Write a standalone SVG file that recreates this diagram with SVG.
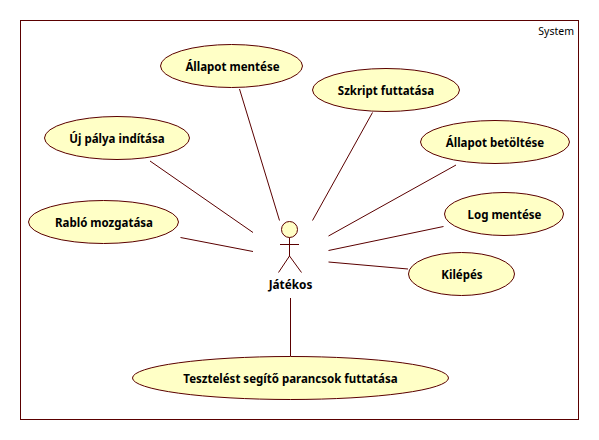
<svg xmlns="http://www.w3.org/2000/svg" width="599" height="440" viewBox="0 0 599 440">
<style>
.s{stroke:#5a0000;stroke-width:1;fill:none}
.u{stroke:#5a0000;stroke-width:1;fill:#ffffc6}
text{font-family:"Noto Sans","Liberation Sans",sans-serif;font-size:11.5px;font-weight:700;fill:#000;text-anchor:middle}
</style>
<rect width="599" height="440" fill="#fff"/>
<g id="system">
<rect class="s" x="20.5" y="20.5" width="558" height="399"/>
<text x="574" y="35" style="font-weight:400;text-anchor:end;font-size:10.5px">System</text>
</g>
<g id="connectors">
<path class="s" d="M239.5 89L279.5 220.5"/>
<path class="s" d="M150 161L253 232.5"/>
<path class="s" d="M180.5 237.5L253 251.5"/>
<path class="s" d="M372.5 112.5L312.5 220.5"/>
<path class="s" d="M456 165L328.5 236"/>
<path class="s" d="M443.5 226.5L328.5 250.5"/>
<path class="s" d="M328.5 262L408 269"/>
<path class="s" d="M290.5 298V356"/>
</g>
<g id="u1"><ellipse class="u" cx="231.5" cy="66" rx="71" ry="21.5"/><text x="232.5" y="71">Állapot mentése</text></g>
<g id="u2"><ellipse class="u" cx="117" cy="138" rx="72.5" ry="21.5"/><text x="117" y="143">Új pálya indítása</text></g>
<g id="u3"><ellipse class="u" cx="103.5" cy="222" rx="75" ry="21.5"/><text x="104" y="227">Rabló mozgatása</text></g>
<g id="u4"><ellipse class="u" cx="386" cy="90" rx="73.5" ry="21.5"/><text x="386" y="95">Szkript futtatása</text></g>
<g id="u5"><ellipse class="u" cx="495" cy="142" rx="74.5" ry="21.5"/><text x="495" y="147">Állapot betöltése</text></g>
<g id="u6"><ellipse class="u" cx="504" cy="214" rx="59.5" ry="21.5"/><text x="504.5" y="219">Log mentése</text></g>
<g id="u7"><ellipse class="u" cx="461.5" cy="274" rx="53" ry="21.5"/><text x="462" y="279">Kilépés</text></g>
<g id="u8"><ellipse class="u" cx="290.5" cy="378" rx="158" ry="21.5"/><text x="290.5" y="383">Tesztelést segítő parancsok futtatása</text></g>
<g id="actor">
<circle class="u" cx="289.5" cy="229.5" r="8"/>
<path class="s" d="M289.5 237.5V256M280 244.5H299M278.5 272.5L289.5 256L301.5 272.5"/>
<text x="290.5" y="289" style="font-size:11.8px">Játékos</text>
</g>
</svg>
